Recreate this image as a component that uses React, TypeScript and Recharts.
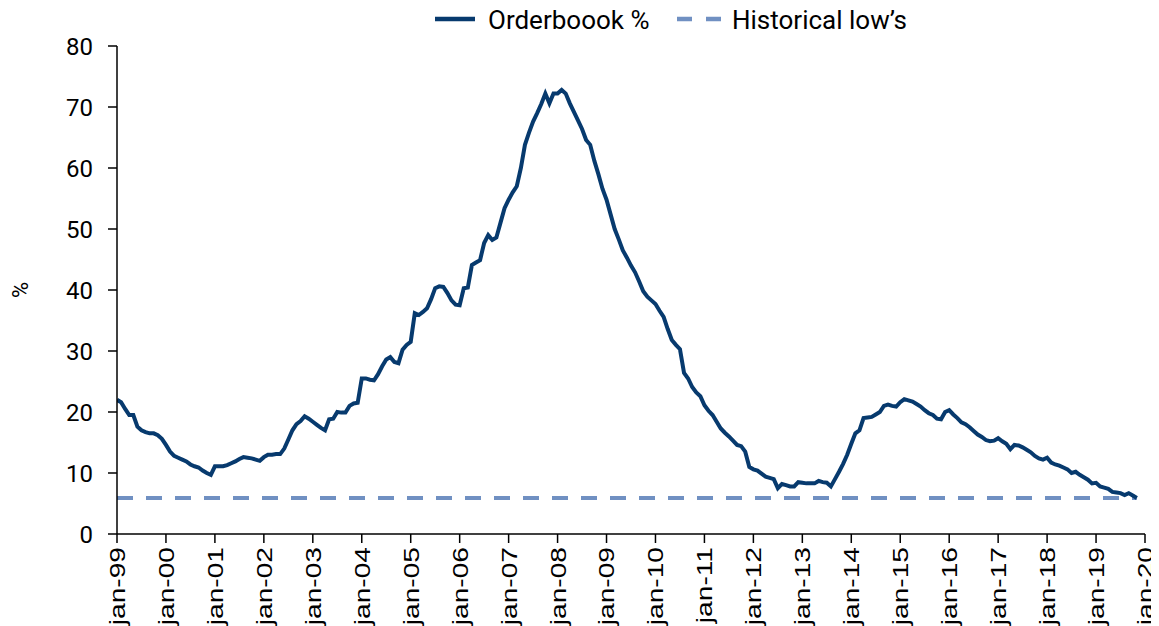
import React from 'react';
import { LineChart, Line, XAxis, YAxis, Legend } from 'recharts';

// Monthly orderbook % from jan-99 (index 0) to nov-19 (index 250)
const orderbook: number[] = [
  22.0, 21.6, 20.5, 19.5, 19.5, 17.6, 17.0, 16.7, 16.5, 16.5, 16.2, 15.6,
  14.6, 13.5, 12.8, 12.5, 12.2, 11.9, 11.4, 11.1, 10.9, 10.4, 10.0, 9.7,
  11.1, 11.1, 11.1, 11.3, 11.6, 11.9, 12.3, 12.6, 12.5, 12.4, 12.2, 12.0,
  12.6, 13.0, 13.0, 13.1, 13.1, 14.0, 15.5, 17.0, 18.0, 18.5, 19.3, 18.9,
  18.4, 17.9, 17.4, 17.0, 18.8, 18.9, 20.0, 19.9, 19.9, 21.0, 21.4, 21.5,
  25.5, 25.5, 25.3, 25.2, 26.2, 27.5, 28.6, 29.0, 28.2, 28.0, 30.2, 31.0,
  31.5, 36.2, 35.9, 36.4, 37.0, 38.5, 40.3, 40.6, 40.5, 39.5, 38.3, 37.6,
  37.5, 40.3, 40.4, 44.1, 44.5, 44.9, 47.7, 49.0, 48.2, 48.6, 51.0, 53.4,
  54.8, 56.0, 57.0, 60.0, 63.8, 65.8, 67.6, 69.0, 70.5, 72.2, 70.6, 72.2,
  72.2, 72.8, 72.2, 70.6, 69.2, 67.8, 66.4, 64.6, 63.8, 61.2, 59.0, 56.6,
  54.8, 52.4, 50.0, 48.3, 46.5, 45.3, 44.0, 42.9, 41.4, 39.8, 38.9, 38.3,
  37.7, 36.6, 35.6, 33.6, 31.8, 31.0, 30.3, 26.4, 25.5, 24.1, 23.2, 22.6,
  21.1, 20.2, 19.5, 18.4, 17.3, 16.6, 16.0, 15.3, 14.6, 14.4, 13.5, 11.0,
  10.6, 10.4, 9.9, 9.4, 9.2, 9.0, 7.5, 8.2, 8.0, 7.8, 7.8, 8.5,
  8.4, 8.3, 8.3, 8.3, 8.7, 8.5, 8.4, 7.8, 9.0, 10.2, 11.5, 13.0,
  14.8, 16.5, 17.0, 19.0, 19.1, 19.2, 19.6, 20.0, 21.0, 21.2, 21.0, 20.9,
  21.6, 22.1, 21.9, 21.7, 21.3, 20.9, 20.3, 19.8, 19.5, 18.9, 18.8, 20.0,
  20.3, 19.6, 19.0, 18.3, 18.0, 17.5, 16.9, 16.3, 15.9, 15.4, 15.2, 15.3,
  15.7, 15.2, 14.8, 13.9, 14.6, 14.5, 14.2, 13.8, 13.4, 12.8, 12.4, 12.2,
  12.5, 11.7, 11.4, 11.2, 10.9, 10.6, 10.0, 10.2, 9.7, 9.3, 8.9, 8.3,
  8.4, 7.8, 7.6, 7.4, 6.9, 6.8, 6.7, 6.4, 6.7, 6.3, 5.9,
];

const historicalLow = 5.9;

const tickLabels: string[] = [
  'jan-99', 'jan-00', 'jan-01', 'jan-02', 'jan-03', 'jan-04', 'jan-05',
  'jan-06', 'jan-07', 'jan-08', 'jan-09', 'jan-10', 'jan-11', 'jan-12',
  'jan-13', 'jan-14', 'jan-15', 'jan-16', 'jan-17', 'jan-18', 'jan-19', 'jan-20',
];

const yTicks: number[] = [0, 10, 20, 30, 40, 50, 60, 70, 80];

const xTicks = tickLabels.map((_, i) => i * 12);
const data = orderbook.map((v, i) => ({ m: i, orderbook: v, low: historicalLow }));

const NAVY = '#073a6e';
const LIGHT = '#7090c2';

const XTick = (props: any) => {
  const { x, y, payload } = props;
  const label = tickLabels[Math.round(payload.value / 12)] ?? '';
  return (
    <g transform={`translate(${x},${y})`}>
      <text
        transform="rotate(-90) scale(1.28,1)"
        x={0}
        y={0}
        dy="0.36em"
        textAnchor="end"
        fontFamily="'Liberation Sans', Arial, sans-serif"
        fontSize={22}
        fill="#000"
      >
        {label}
      </text>
    </g>
  );
};

const YLabel = (props: any) => {
  const vb = props.viewBox || { x: 0, y: 38, width: 109, height: 488 };
  const cx = vb.x + 12;
  const cy = vb.y + vb.height / 2;
  return (
    <text
      x={cx}
      y={cy}
      transform={`rotate(-90, ${cx}, ${cy})`}
      textAnchor="middle"
      dominantBaseline="central"
      fontFamily="Roboto, sans-serif"
      fontSize={22}
      fill="#000"
    >
      %
    </text>
  );
};

const LegendContent = () => {
  const textStyle: React.CSSProperties = {
    position: 'absolute',
    top: -4,
    fontFamily: 'Roboto, sans-serif',
    fontSize: 26,
    lineHeight: '30px',
    color: '#000',
    whiteSpace: 'nowrap',
  };
  return (
    <div style={{ position: 'relative', width: 1151, height: 30 }}>
      <svg style={{ position: 'absolute', left: 0, top: 0 }} width={1151} height={30}>
        <line x1={426} x2={466} y1={10} y2={10} stroke={NAVY} strokeWidth={4.5} />
        <line x1={668} x2={712} y1={10} y2={10} stroke={LIGHT} strokeWidth={4.5} strokeDasharray="15 14" />
      </svg>
      <span style={{ ...textStyle, left: 479 }}>Orderboook %</span>
      <span style={{ ...textStyle, left: 723 }}>Historical low’s</span>
    </div>
  );
};

export default function App() {
  return (
    <LineChart
      width={1151}
      height={618}
      data={data}
      margin={{ top: 38, right: 14, bottom: 12, left: 0 }}
    >
      <Legend
        content={<LegendContent />}
        verticalAlign="middle"
        align="center"
        layout="horizontal"
        wrapperStyle={{ top: 1, left: 1, width: 1151, height: 30 }}
      />
      <XAxis
        type="number"
        dataKey="m"
        domain={[0, 252]}
        ticks={xTicks}
        interval={0}
        height={80}
        tick={<XTick />}
        tickSize={9}
        tickMargin={4}
        axisLine={{ stroke: '#000', strokeWidth: 1.5 }}
        tickLine={{ stroke: '#000', strokeWidth: 1.5 }}
        allowDataOverflow
      />
      <YAxis
        type="number"
        domain={[0, 80]}
        ticks={yTicks}
        interval={0}
        width={109}
        tickSize={9}
        tickMargin={15}
        tick={{ fontFamily: 'Roboto, sans-serif', fontSize: 24, fill: '#000' }}
        axisLine={{ stroke: '#000', strokeWidth: 1.5 }}
        tickLine={{ stroke: '#000', strokeWidth: 1.5 }}
        label={<YLabel />}
      />
      <Line
        type="linear"
        dataKey="low"
        stroke={LIGHT}
        strokeWidth={4}
        strokeDasharray="16 13"
        dot={false}
        activeDot={false}
        isAnimationActive={false}
      />
      <Line
        type="linear"
        dataKey="orderbook"
        stroke={NAVY}
        strokeWidth={4}
        dot={false}
        activeDot={false}
        isAnimationActive={false}
      />
    </LineChart>
  );
}
